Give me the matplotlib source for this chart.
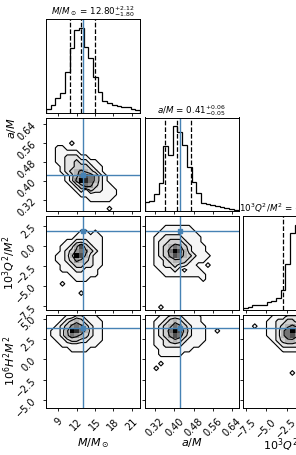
import numpy as np
import matplotlib
matplotlib.use("Agg")
import matplotlib.pyplot as plt
from matplotlib.colors import ListedColormap

# Parametry (corner plot, widoczne 3 kolumny)
labels = [r"$M/M_\odot$", r"$a/M$", r"$10^3Q^2/M^2$", r"$10^6H^2M^2$"]
ranges = [(7.05, 22.3), (0.275, 0.668), (-7.9, 3.75), (-6.0, 5.5)]
ticks = [[9, 12, 15, 18, 21],
         [0.32, 0.40, 0.48, 0.56, 0.64],
         [-7.5, -5.0, -2.5, 0.0, 2.5],
         [-5.0, -2.5, 0.0, 2.5, 5.0]]
truths = [13.0, 0.425, 1.85, 3.9]
quantiles = [(11.00, 12.80, 14.92), (0.36, 0.41, 0.47), (-2.96, -0.43, 0.89)]

# Histogramy 1D (20 przedzialow)
hist_M = [11, 21, 44, 59, 121, 191, 246, 253, 196, 161, 106, 61, 33, 29, 23, 19, 17, 15, 11, 8]
hist_a = [28, 30, 52, 85, 195, 170, 256, 238, 200, 132, 88, 55, 24, 20, 17, 15, 13, 9, 7, 3]
hist_Q = [4, 7, 12, 14, 14, 22, 24, 32, 57, 132, 222, 247, 180, 90, 45, 20, 10, 5, 3, 2]
hists = [hist_M, hist_a, hist_Q]

# Histogramy 2D (wiersz 0 = gora), gestosc 0-9
grid_a_M = [
    "00000000000000000000",
    "00000000000000000000",
    "00000000000000000000",
    "00000000000000000000",
    "00000000000000000000",
    "00000100000000000000",
    "00110000000000000000",
    "00111110000000000000",
    "00112221100000000000",
    "00112232211000000000",
    "00012233321100000000",
    "00012345432100000000",
    "00001246764210000000",
    "00001259864210000000",
    "00000124653211000000",
    "00000012132211100000",
    "00000001111111100000",
    "00000000011111000000",
    "00000000000000000000",
    "00000000000001000000",
]
grid_Q_M = [
    "00000000000000000000",
    "00000000000000000000",
    "00000000000000000000",
    "00000001101000000000",
    "00000011111100000000",
    "00001122211100000000",
    "00011247321100000000",
    "00012356532100000000",
    "00112497421100000000",
    "00112354321100000000",
    "00011233221100000000",
    "00011122111000000000",
    "00000111111000000000",
    "00000011100000000000",
    "00010000000000000000",
    "00000000000000000000",
    "00000001000000000000",
    "00000000000000000000",
    "00000000000000000000",
    "00000000000000000000",
]
grid_Q_a = [
    "00000000000000000000",
    "00000000000000000000",
    "00001111110000000000",
    "00011111111000000000",
    "00112222111100000000",
    "00122333211100000000",
    "00123465321110000000",
    "00123697421110000000",
    "00123576432111000000",
    "00112344321110000000",
    "00112232211001000000",
    "00011121011100000000",
    "00001111111110000000",
    "00000000000010000000",
    "00000000000000000000",
    "00000000000000000000",
    "00000000000000000000",
    "00000000000000000000",
    "00000000000000000000",
    "00010000000000000000",
]
grid_H_M = [
    "00001122111000000000",
    "00012343211100000000",
    "00123565321100000000",
    "01124986421100000000",
    "01124654321100000000",
    "00112332211100000000",
    "00011111111000000000",
    "00000111100000000000",
    "00000000000000000000",
    "00000000000000000000",
    "00000000000000000000",
    "00000000000000000000",
    "00000000000000000000",
    "00000000000000000000",
    "00000000000000000000",
    "00000000000000000000",
    "00000000000000000000",
    "00000000000000000000",
    "00000000000000000000",
    "00000000000000000000",
]
grid_H_a = [
    "00011222111100000000",
    "00112343211100000000",
    "00123465321110000000",
    "00123697421110010000",
    "00123576321110000000",
    "00112343211110000000",
    "00112222111100000000",
    "00011111110000000000",
    "00011111000000000000",
    "00000000000000000000",
    "00010000000000000000",
    "00100000000000000000",
    "00000000000000000000",
    "00000000000000000000",
    "00000000000000000000",
    "00000000000000000000",
    "00000000000000000000",
    "00000000000000000000",
    "00000000000000000000",
    "00000000000000000000",
]
grid_H_Q = [
    "00000011122211110000",
    "00000112233221110000",
    "00100112345432111000",
    "00000112469742111000",
    "00000112467532111000",
    "00000012344321110000",
    "00000001222211110000",
    "00000000111111100000",
    "00000000000000000000",
    "00000000000000000000",
    "00000000000000000000",
    "00000000000000000000",
    "00000000001000000000",
    "00000000000000000000",
    "00000000000000000000",
    "00000000000000000000",
    "00000000000000000000",
    "00000000000000000000",
    "00000000000000000000",
    "00000000000000000000",
]
grids = {(1, 0): grid_a_M, (2, 0): grid_Q_M, (2, 1): grid_Q_a,
         (3, 0): grid_H_M, (3, 1): grid_H_a, (3, 2): grid_H_Q}

truth_color = "#4682b4"
W, H = 296, 455
col_left = [46, 144.5, 243]
row_top = [19, 117.5, 216, 314.5]
pw, ph = 94, 93.5

g = np.linspace(0, 1, 256)
gray = 1 - g**1.5
density_cmap = ListedColormap(np.column_stack([gray, gray, gray]))

fig = plt.figure(figsize=(W / 100, H / 100), dpi=100)


def make_ax(r, c):
    ax = fig.add_axes([col_left[c] / W, 1 - (row_top[r] + ph) / H, pw / W, ph / H])
    for s in ax.spines.values():
        s.set_linewidth(0.7)
    ax.tick_params(labelsize=7, length=2.5, width=0.6, direction="out")
    return ax


for r in range(4):
    for c in range(3):
        if c > r:
            continue
        ax = make_ax(r, c)
        x0, x1 = ranges[c]
        xe = np.linspace(x0, x1, 21)
        if r == c:
            ax.stairs(hists[c], xe, color="k", lw=0.9)
            ax.set_ylim(0, 1.1 * max(hists[c]))
            for q in quantiles[c]:
                ax.axvline(q, color="k", ls="--", lw=0.9)
            ax.axvline(truths[c], color=truth_color, lw=1.0)
            q16, q50, q84 = quantiles[c]
            ax.set_title(f"{labels[c]} = ${q50:.2f}^{{+{q84 - q50:.2f}}}_{{-{q50 - q16:.2f}}}$",
                         fontsize=6.3, pad=2)
            ax.set_yticks([])
        else:
            y0, y1 = ranges[r]
            ye = np.linspace(y0, y1, 21)
            Z = np.flipud(np.array([[int(ch) for ch in row] for row in grids[(r, c)]], float))
            ax.pcolormesh(xe, ye, np.ma.masked_equal(Z, 0), cmap=density_cmap, vmin=0, vmax=9)
            xc = 0.5 * (xe[:-1] + xe[1:])
            yc = 0.5 * (ye[:-1] + ye[1:])
            dx, dy = xe[1] - xe[0], ye[1] - ye[0]
            xcp = np.concatenate([[xc[0] - dx], xc, [xc[-1] + dx]])
            ycp = np.concatenate([[yc[0] - dy], yc, [yc[-1] + dy]])
            ax.contour(xcp, ycp, np.pad(Z, 1), levels=[0.5, 1.5, 2.5, 4.5],
                       colors="k", linewidths=0.8)
            ax.axvline(truths[c], color=truth_color, lw=1.0)
            ax.axhline(truths[r], color=truth_color, lw=1.0)
            ax.plot(truths[c], truths[r], "s", color=truth_color, ms=3.5)
            ax.set_ylim(y0, y1)
            ax.set_yticks(ticks[r])
            if c == 0:
                for lab in ax.get_yticklabels():
                    lab.set_rotation(45)
                ax.set_ylabel(labels[r], fontsize=8)
                ax.yaxis.set_label_coords(-0.3, 0.89 if r == 1 else 0.5)
            else:
                ax.set_yticklabels([])
        ax.set_xlim(x0, x1)
        ax.set_xticks(ticks[c])
        if r == 3:
            for lab in ax.get_xticklabels():
                lab.set_rotation(45)
            ax.set_xlabel(labels[c], fontsize=8)
            ax.xaxis.set_label_coords(0.5, -0.3)
        else:
            ax.set_xticklabels([])

fig.savefig("out.png", dpi=100)
